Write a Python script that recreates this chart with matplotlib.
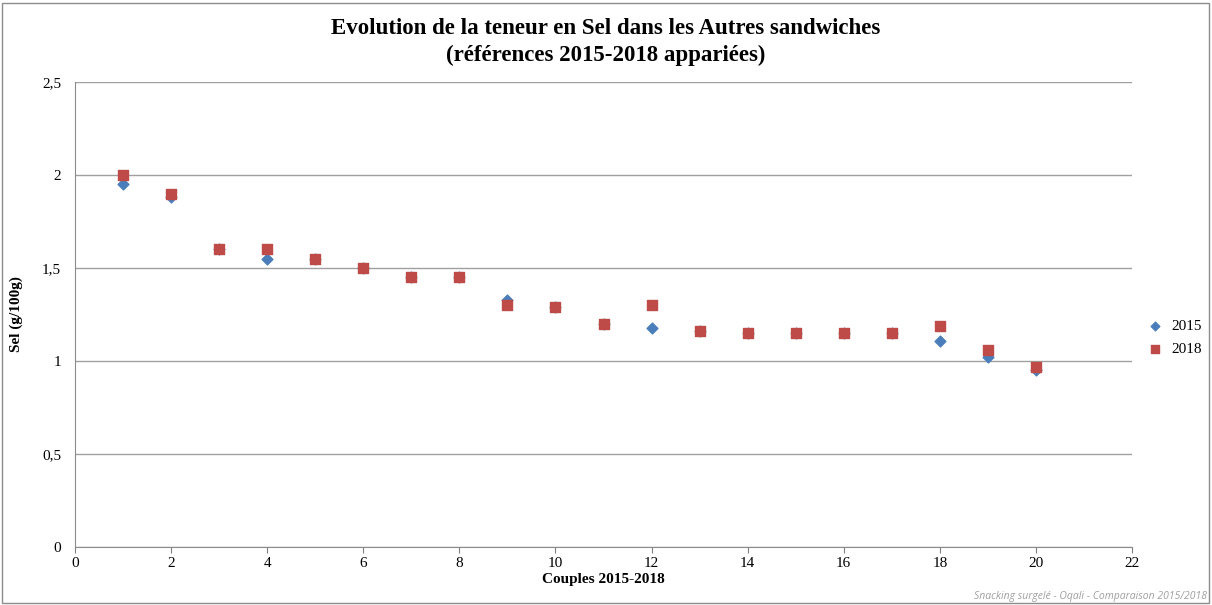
import matplotlib.pyplot as plt
from matplotlib.patches import Rectangle

# Sel (g/100g) par couple de références appariées
couples = list(range(1, 21))
sel_2015 = [1.95, 1.88, 1.60, 1.55, 1.55, 1.50, 1.45, 1.45, 1.33, 1.29,
            1.20, 1.18, 1.16, 1.15, 1.15, 1.15, 1.15, 1.11, 1.02, 0.95]
sel_2018 = [2.00, 1.90, 1.60, 1.60, 1.55, 1.50, 1.45, 1.45, 1.30, 1.29,
            1.20, 1.30, 1.16, 1.15, 1.15, 1.15, 1.15, 1.19, 1.06, 0.97]

y_ticks = [0, 0.5, 1, 1.5, 2, 2.5]
y_labels = ['0', '0,5', '1', '1,5', '2', '2,5']
x_ticks = list(range(0, 23, 2))

plt.rcParams['font.family'] = ['Liberation Serif', 'DejaVu Serif']

fig = plt.figure(figsize=(12.12, 6.05), dpi=100)
ax = fig.add_axes([75 / 1212, 1 - 547 / 605, (1132 - 75) / 1212, (547 - 82) / 605])

# cadre gris autour du graphique
fig.patches.append(Rectangle((2 / 1212, 2 / 605), 1207 / 1212, 600 / 605,
                             transform=fig.transFigure, fill=False,
                             edgecolor='#8c8c8c', linewidth=1))

ax.scatter(couples, sel_2015, marker='D', s=30, color='#4a7ebb', zorder=3, label='2015')
ax.scatter(couples, sel_2018, marker='s', s=55, color='#be4b48', zorder=3, label='2018')

ax.set_xlim(0, 22)
ax.set_ylim(0, 2.5)
ax.set_xticks(x_ticks)
ax.set_yticks(y_ticks)
ax.set_yticklabels(y_labels)
ax.tick_params(axis='both', labelsize=11, colors='#7f7f7f', labelcolor='black')
ax.tick_params(axis='y', length=0, pad=10)
ax.tick_params(axis='x', length=4, direction='out')
ax.grid(axis='y', color='#a0a0a0', linewidth=1)
ax.set_axisbelow(True)
for side in ['top', 'right']:
    ax.spines[side].set_visible(False)
for side in ['left', 'bottom']:
    ax.spines[side].set_color('#8c8c8c')

ax.set_xlabel('Couples 2015-2018', fontsize=11, fontweight='bold', labelpad=2)
ax.set_ylabel('Sel (g/100g)', fontsize=11, fontweight='bold', labelpad=14)

fig.text(0.5, 1 - 42 / 605,
         'Evolution de la teneur en Sel dans les Autres sandwiches\n(références 2015-2018 appariées)',
         ha='center', va='center', fontsize=16.5, fontweight='bold', linespacing=1.3)

ax.legend(loc='center left', bbox_to_anchor=(1.0, 0.45), frameon=False,
          fontsize=11, handletextpad=0.1, borderpad=0, labelspacing=0.6,
          markerscale=0.8)

fig.text(1207 / 1212, 1 - 596 / 605, 'Snacking surgelé - Oqali - Comparaison 2015/2018',
         ha='right', va='center', fontsize=7.5, style='italic', color='#a0a0a0',
         family=['Open Sans', 'DejaVu Sans'])

fig.savefig('out.png', dpi=100)
